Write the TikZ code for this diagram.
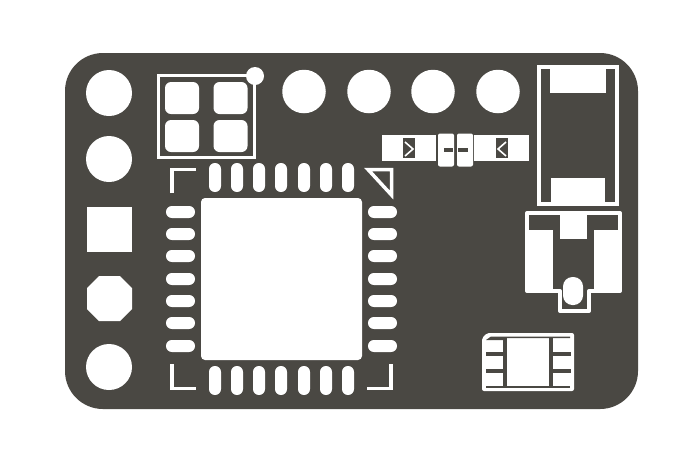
\documentclass[tikz,border=0pt]{standalone}
\usepackage{amsmath}
\usepackage{tikz}
\definecolor{boardcol}{HTML}{4A4843}
\tikzset{
  hole/.style={circle, fill=white, inner sep=0pt, minimum size=#1},
  padv/.style={rectangle, rounded corners=5.9pt, fill=white, inner sep=0pt, minimum width=12pt, minimum height=29pt},
  padh/.style={rectangle, rounded corners=5.9pt, fill=white, inner sep=0pt, minimum width=29pt, minimum height=12pt},
  padq/.style={rectangle, rounded corners=6pt, fill=white, inner sep=0pt, minimum width=34pt, minimum height=32pt},
  silk/.style={draw=white, line width=3.5pt, line join=miter},
  gap/.style={fill=boardcol}
}
\begin{document}
\begin{tikzpicture}[x=1pt, y=-1pt]
\useasboundingbox (0,0) rectangle (700,467);
\fill[white] (0,0) rectangle (700,467);
\fill[boardcol, rounded corners=38pt] (65,53) rectangle (638,409);

% holes along the edge
\node[hole=46pt] (h1) at (109,93) {};
\node[hole=46pt] (h2) at (109,159) {};
\node[hole=46pt] (h3) at (109,367) {};
\foreach \x/\n in {304/a, 369/b, 433/c, 498/d}
  \node[hole=43.5pt] (top\n) at (\x,91.5) {};
\node[rectangle, fill=white, inner sep=0pt, minimum size=45pt] (sq) at (109.5,229.5) {};
\fill[white] (99,276) -- (120,276) -- (132,288) -- (132,309) -- (120,321) -- (99,321) -- (87,309) -- (87,288) -- cycle;

% crystal
\draw[silk, line width=3pt] (158.5,75.5) rectangle (254.5,157.5);
\node[hole=18pt] (pin1) at (255,76) {};
\foreach \x/\y/\n in {182/98/a, 230.5/98/b, 182/136/c, 230.5/136/d}
  \node[padq] (xt\n) at (\x,\y) {};

% qfn
\node[rectangle, rounded corners=4pt, fill=white, inner sep=0pt, minimum width=161pt, minimum height=162pt] (epad) at (281.5,279) {};
\foreach \x in {215,237,259,281,304,326,348} {
  \node[padv] at (\x,177.5) {};
  \node[padv] at (\x,380.5) {};
}
\foreach \y in {212,234,256,279,301,323,346} {
  \node[padh] at (180.5,\y) {};
  \node[padh] at (382.5,\y) {};
}
\draw[silk] (172,193) -- (172,169.5) -- (196,169.5);
\draw[silk] (172,364) -- (172,388.5) -- (196,388.5);
\draw[silk] (391,364) -- (391,388.5) -- (367,388.5);
\draw[silk] (391.5,195) -- (391.5,169.5) -- (368,169.5) -- cycle;

% resistors
\fill[white] (382,135) rectangle (436,161);
\fill[white] (474,135) rectangle (529,161);
\fill[gap] (403,138) rectangle (415,158);
\fill[gap] (496,138) rectangle (508,158);
\draw[white, line width=1.6pt] (405,142) -- (413,149) -- (405,156);
\draw[white, line width=1.6pt] (506,142) -- (498,149) -- (506,156);
\fill[white, rounded corners=2pt] (438,133.5) rectangle (454,166.5);
\fill[white, rounded corners=2pt] (457,133.5) rectangle (473,166.5);
\fill[gap] (444,148) rectangle (453,152);
\fill[gap] (458,148) rectangle (468,152);

% big cap
\draw[silk, line width=3.6pt] (539,67) rectangle (617,204);
\fill[white] (550,67) rectangle (606,93);
\fill[white] (551,178) rectangle (605,204);

% regulator
\draw[silk, line width=4pt, line join=round] (527,213) -- (620,213) -- (620,291) -- (589,291) -- (589,311) -- (560,311) -- (560,291) -- (527,291) -- cycle;
\fill[white] (529,230) rectangle (553,290);
\fill[white] (594,230) rectangle (618,290);
\fill[white] (560,213) rectangle (587,239);
\node[rectangle, rounded corners=9.5pt, fill=white, inner sep=0pt, minimum width=20pt, minimum height=28pt] (tab) at (573,291) {};

% small chip
\fill[white, rounded corners=2pt] (487,333) -- (574,333) -- (574,391) -- (482,391) -- (482,338) -- cycle;
\fill[gap] (503,338) rectangle (507,386);
\fill[gap] (549,338) rectangle (553,386);
\fill[gap] (486,386) rectangle (570,388);
\fill[gap] (486,340) -- (491,336.5) -- (570,336.5) -- (570,338) -- (507,338) -- (503,340) -- cycle;
\foreach \y in {352,369} {
  \fill[gap] (486,\y) rectangle (503,\y+4);
  \fill[gap] (553,\y) rectangle (571,\y+4);
}
\end{tikzpicture}
\end{document}
